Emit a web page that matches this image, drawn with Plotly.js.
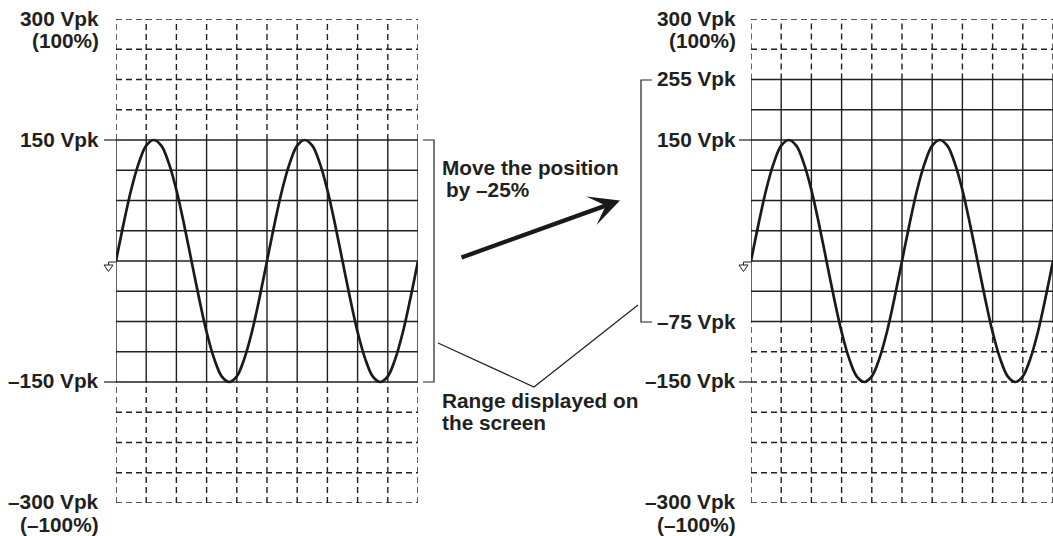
<!DOCTYPE html>
<html>
<head>
<meta charset="utf-8">
<script src="https://cdn.plot.ly/plotly-3.0.1.min.js"></script>
<style>html,body{margin:0;padding:0;background:#fff;}#chart{width:1053px;height:536px;}</style>
</head>
<body>
<div id="chart"></div>
<script>
// ---- data ----
const divisionsX = [0,1,2,3,4,5,6,7,8,9,10];
const gridLevels = [300,262.5,225,187.5,150,112.5,75,37.5,0,-37.5,-75,-112.5,-150,-187.5,-225,-262.5,-300];
const waveX = [0,0.25,0.5,0.75,1,1.25,1.5,1.75,2,2.25,2.5,2.75,3,3.25,3.5,3.75,4,4.25,4.5,4.75,5,
               5.25,5.5,5.75,6,6.25,6.5,6.75,7,7.25,7.5,7.75,8,8.25,8.5,8.75,9,9.25,9.5,9.75,10];
const waveY = [0,46,88,121,143,150,143,121,88,46,0,-46,-88,-121,-143,-150,-143,-121,-88,-46,0,
               46,88,121,143,150,143,121,88,46,0,-46,-88,-121,-143,-150,-143,-121,-88,-46,0];
const leftRange = [-150,150];    // range displayed on screen (before move)
const rightRange = [-75,225];    // range displayed after moving by -25%
const leftTickVals = [150,-150];
const leftTickText = ["150 Vpk","–150 Vpk"];
const rightTickVals = [225,150,-75,-150];
const rightTickText = ["255 Vpk","150 Vpk","–75 Vpk","–150 Vpk"];
const limitVals = [300,-300];
const limitText = ["300 Vpk","–300 Vpk"];
const limitPct = ["(100%)","(–100%)"];
const moveText = ["Move the position","by –25%"];
const rangeText = ["Range displayed on","the screen"];
const noteText = "Note";

// ---- layout helpers ----
const W = 1053, H = 536;
const X = p => p / W;
const Y = p => 1 - p / H;
const FONT = {family: "Liberation Sans, Arial, sans-serif", size: 20.8, color: "#231f20", weight: "bold"};
const SOLID = {color: "#231f20", width: 1.4};
const DASH = {color: "#231f20", width: 1.4, dash: "6px,4px"};

const shapes = [];
const annotations = [];

function grid(xr, yr, range) {
  const [lo, hi] = range;
  gridLevels.forEach(v => {
    const solid = v >= lo && v <= hi;
    shapes.push({type: "line", xref: xr, yref: yr, x0: divisionsX[0], x1: divisionsX[divisionsX.length-1],
      y0: v, y1: v, line: solid ? SOLID : DASH, layer: "below"});
  });
  divisionsX.forEach(x => {
    shapes.push({type: "line", xref: xr, yref: yr, x0: x, x1: x, y0: lo, y1: hi, line: SOLID, layer: "below"});
    shapes.push({type: "line", xref: xr, yref: yr, x0: x, x1: x, y0: hi, y1: gridLevels[0], line: DASH, layer: "below"});
    shapes.push({type: "line", xref: xr, yref: yr, x0: x, x1: x, y0: gridLevels[gridLevels.length-1], y1: lo, line: DASH, layer: "below"});
  });
}
grid("x", "y", leftRange);
grid("x2", "y2", rightRange);

function label(text, xpx, yref, v, yshift) {
  annotations.push({text: text, xref: "paper", x: X(xpx), xanchor: "right", yref: yref, y: v,
    yanchor: "middle", yshift: yshift || 0, showarrow: false, font: FONT, align: "right"});
}
function ptext(text, xpx, ypx, xanchor) {
  annotations.push({text: text, xref: "paper", yref: "paper", x: X(xpx), y: Y(ypx),
    xanchor: xanchor || "left", yanchor: "middle", showarrow: false, font: FONT, align: "left"});
}

// left chart labels
label(limitText[0], 101, "y", limitVals[0], 0);
label(limitPct[0], 101, "y", limitVals[0], -21.5);
label(limitText[1], 101, "y", limitVals[1], 1.5);
label(limitPct[1], 101, "y", limitVals[1], -21);
leftTickVals.forEach((v, i) => label(leftTickText[i], 101, "y", v, v < 0 ? 2 : 0));
// right chart labels
label(limitText[0], 738, "y2", limitVals[0], 0);
label(limitPct[0], 738, "y2", limitVals[0], -21.5);
label(limitText[1], 738, "y2", limitVals[1], 1.5);
label(limitPct[1], 738, "y2", limitVals[1], -21);
rightTickVals.forEach((v, i) => label(rightTickText[i], 738, "y2", v, v === -150 ? 2 : (v === 225 ? 1 : 0)));

// tick stubs
function pline(pts, lw) {
  const d = pts.map((p, i) => (i ? "L" : "M") + X(p[0]) + "," + Y(p[1])).join(" ");
  shapes.push({type: "path", xref: "paper", yref: "paper", path: d, line: {color: "#231f20", width: lw || 1.2}});
}
pline([[104,140],[116,140]]);
pline([[104,382],[116,382]]);
pline([[739,140],[751,140]]);
pline([[739,382],[751,382]]);
// brackets
pline([[423,140],[434,140],[434,382],[423,382]]);
pline([[652,80],[641,80],[641,322],[652,322]]);
// leader lines
pline([[438,343],[534,387],[638,305]]);
// ground markers
[0, 635].forEach(o => {
  pline([[116+o,262],[108.5+o,262],[108.5+o,265]], 1);
  const d = "M" + X(104+o) + "," + Y(265) + " L" + X(113+o) + "," + Y(265) + " L" + X(108.5+o) + "," + Y(271.5) + " Z";
  shapes.push({type: "path", xref: "paper", yref: "paper", path: d, line: {color: "#231f20", width: 1}, fillcolor: "#fff"});
});

// middle texts
ptext(moveText[0], 440, 167);
ptext(moveText[1], 444, 189.5);
ptext(rangeText[0], 440, 400.5);
ptext(rangeText[1], 440, 422.5);
annotations.push({text: noteText, xref: "paper", yref: "paper", x: X(114), y: Y(529), xanchor: "left",
  yanchor: "top", showarrow: false, font: FONT});
// arrow
annotations.push({text: "", xref: "paper", yref: "paper", x: X(620), y: Y(200.5), ax: -160, ay: 57.5,
  showarrow: true, arrowhead: 3, arrowsize: 1.15, arrowwidth: 4.4, arrowcolor: "#1a1a1a"});

const traces = [
  {x: waveX, y: waveY, xaxis: "x", yaxis: "y", type: "scatter", mode: "lines",
   line: {color: "#1a1a1a", width: 2.7, shape: "spline"}, hoverinfo: "skip", cliponaxis: false},
  {x: waveX, y: waveY, xaxis: "x2", yaxis: "y2", type: "scatter", mode: "lines",
   line: {color: "#1a1a1a", width: 2.7, shape: "spline"}, hoverinfo: "skip", cliponaxis: false}
];

const yDom = [Y(503), Y(19)];
const axBase = {visible: false, fixedrange: true, showgrid: false, zeroline: false};
const layout = {
  width: W, height: H, margin: {l: 0, r: 0, t: 0, b: 0}, showlegend: false,
  paper_bgcolor: "#fff", plot_bgcolor: "rgba(0,0,0,0)",
  xaxis: Object.assign({}, axBase, {domain: [X(116), X(418)], range: [0, 10]}),
  yaxis: Object.assign({}, axBase, {domain: yDom, range: [-300, 300]}),
  xaxis2: Object.assign({}, axBase, {domain: [X(751), X(1053)], range: [0, 10], anchor: "y2"}),
  yaxis2: Object.assign({}, axBase, {domain: yDom, range: [-300, 300], anchor: "x2"}),
  shapes: shapes, annotations: annotations, hovermode: false
};
Plotly.newPlot("chart", traces, layout, {staticPlot: true, displayModeBar: false});
</script>
</body>
</html>
